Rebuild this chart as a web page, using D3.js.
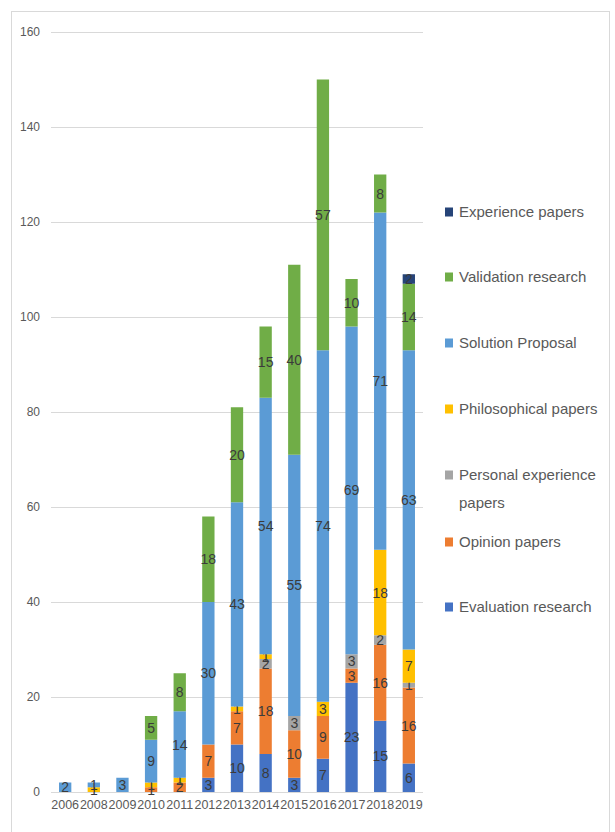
<!DOCTYPE html>
<html>
<head>
<meta charset="utf-8">
<script src="https://cdn.jsdelivr.net/npm/d3@7"></script>
<style>
  html, body { margin: 0; padding: 0; background: #fff; }
  svg { display: block; }
  text { font-family: "Liberation Sans Narrow", "Liberation Sans", Arial, sans-serif; }
</style>
</head>
<body>
<svg id="chart" width="615" height="832"></svg>
<script>
// Publications per year, split by research type
const years = ["2006", "2008", "2009", "2010", "2011", "2012", "2013", "2014", "2015", "2016", "2017", "2018", "2019"];

const evaluationResearch = [0, 0, 0, 0, 0, 3, 10, 8, 3, 7, 23, 15, 6];
const opinionPapers      = [0, 0, 0, 1, 2, 7, 7, 18, 10, 9, 3, 16, 16];
const personalExperience = [0, 0, 0, 0, 0, 0, 0, 2, 3, 0, 3, 2, 1];
const philosophical      = [0, 1, 0, 1, 1, 0, 1, 1, 0, 3, 0, 18, 7];
const solutionProposal   = [2, 1, 3, 9, 14, 30, 43, 54, 55, 74, 69, 71, 63];
const validationResearch = [0, 0, 0, 5, 8, 18, 20, 15, 40, 57, 10, 8, 14];
const experiencePapers   = [0, 0, 0, 0, 0, 0, 0, 0, 0, 0, 0, 0, 2];

const yTicks = [0, 20, 40, 60, 80, 100, 120, 140, 160];

// stacking order, bottom to top
const series = [
  { key: "eval",  name: "Evaluation research",        values: evaluationResearch, color: "#4472C4" },
  { key: "opin",  name: "Opinion papers",             values: opinionPapers,      color: "#ED7D31" },
  { key: "pers",  name: "Personal experience papers", values: personalExperience, color: "#A5A5A5" },
  { key: "phil",  name: "Philosophical papers",       values: philosophical,      color: "#FFC000" },
  { key: "sol",   name: "Solution Proposal",          values: solutionProposal,   color: "#5B9BD5" },
  { key: "val",   name: "Validation research",        values: validationResearch, color: "#70AD47" },
  { key: "exp",   name: "Experience papers",          values: experiencePapers,   color: "#264478" }
];

const rows = years.map((y, i) => {
  const r = { year: y };
  series.forEach(s => r[s.key] = s.values[i]);
  return r;
});

const svg = d3.select("#chart");

// outer frame
svg.append("rect")
  .attr("x", 11.5).attr("y", 11.5)
  .attr("width", 598).attr("height", 830)
  .attr("fill", "none").attr("stroke", "#d9d9d9").attr("stroke-width", 1);

const x = d3.scaleBand().domain(years).range([51, 423]).paddingInner(0.57).paddingOuter(0.28);
const y = d3.scaleLinear().domain([0, 160]).range([792, 32]);

// gridlines
svg.append("g").selectAll("line")
  .data(yTicks)
  .join("line")
  .attr("x1", 51).attr("x2", 423)
  .attr("y1", d => Math.round(y(d)) + 0.5).attr("y2", d => Math.round(y(d)) + 0.5)
  .attr("stroke", "#d9d9d9").attr("stroke-width", 1.2);

// y axis labels
const yAxis = d3.axisLeft(y).tickValues(yTicks).tickSize(0).tickPadding(0);
const yg = svg.append("g").attr("transform", "translate(40,0)").call(yAxis);
yg.select(".domain").remove();
yg.selectAll("text").attr("fill", "#595959").attr("font-size", 12);

// x axis labels
const xAxis = d3.axisBottom(x).tickSize(0).tickPadding(8);
const xg = svg.append("g").attr("transform", "translate(0,792)").call(xAxis);
xg.select(".domain").remove();
xg.selectAll("text").attr("fill", "#595959").attr("font-size", 12.5);

// stacked bars
const stack = d3.stack().keys(series.map(s => s.key));
const layers = stack(rows);

const layerG = svg.append("g").selectAll("g")
  .data(layers)
  .join("g")
  .attr("fill", (d, i) => series[i].color);

layerG.selectAll("rect")
  .data(d => d.filter(p => p[1] - p[0] > 0))
  .join("rect")
  .attr("x", d => x(d.data.year))
  .attr("width", x.bandwidth())
  .attr("y", d => y(d[1]))
  .attr("height", d => y(d[0]) - y(d[1]));

// value labels centred in each segment
layerG.selectAll("text")
  .data(d => d.filter(p => p[1] - p[0] > 0))
  .join("text")
  .attr("x", d => x(d.data.year) + x.bandwidth() / 2)
  .attr("y", d => (y(d[0]) + y(d[1])) / 2)
  .attr("dy", "0.36em")
  .attr("text-anchor", "middle")
  .attr("font-size", 14)
  .attr("fill", "#3b3b3b")
  .text(d => d[1] - d[0]);

// legend, top entry is the last series
const legendItems = [
  { s: series[6], y: 212, lines: ["Experience papers"] },
  { s: series[5], y: 277, lines: ["Validation research"] },
  { s: series[4], y: 343, lines: ["Solution Proposal"] },
  { s: series[3], y: 409, lines: ["Philosophical papers"] },
  { s: series[2], y: 475, lines: ["Personal experience", "papers"] },
  { s: series[1], y: 542, lines: ["Opinion papers"] },
  { s: series[0], y: 607, lines: ["Evaluation research"] }
];

const lg = svg.append("g").selectAll("g")
  .data(legendItems)
  .join("g")
  .attr("transform", d => `translate(445,${d.y})`);

lg.append("rect")
  .attr("x", 0).attr("y", -4.5)
  .attr("width", 8).attr("height", 9)
  .attr("fill", d => d.s.color);

lg.each(function(d) {
  const t = d3.select(this).append("text")
    .attr("x", 14).attr("y", 0)
    .attr("font-size", 15)
    .attr("fill", "#595959");
  d.lines.forEach((ln, i) => {
    t.append("tspan").attr("x", 14).attr("dy", i === 0 ? "0.36em" : 28).text(ln);
  });
});
</script>
</body>
</html>
